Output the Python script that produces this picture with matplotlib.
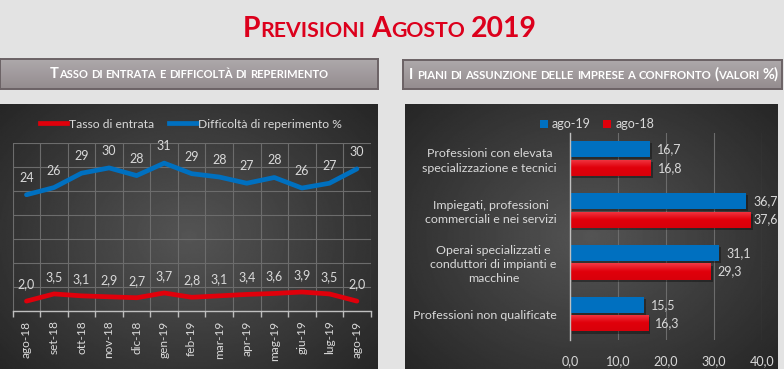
import matplotlib
matplotlib.use('Agg')
import matplotlib.pyplot as plt
import numpy as np
from matplotlib.offsetbox import TextArea, HPacker, AnchoredOffsetbox, DrawingArea
from matplotlib.patches import Patch
from matplotlib.lines import Line2D
from matplotlib.colors import LinearSegmentedColormap
import matplotlib.patheffects as pe

plt.rcParams['font.family'] = ['Lato', 'DejaVu Sans']

# ---------------- data ----------------
months = ['ago-18', 'set-18', 'ott-18', 'nov-18', 'dic-18', 'gen-19', 'feb-19',
          'mar-19', 'apr-19', 'mag-19', 'giu-19', 'lug-19', 'ago-19']
tasso_entrata = [2.0, 3.5, 3.1, 2.9, 2.7, 3.7, 2.8, 3.1, 3.4, 3.6, 3.9, 3.5, 2.0]
difficolta = [24.2, 25.7, 28.7, 29.8, 28.2, 30.8, 28.6, 27.9, 26.6, 27.8, 25.6, 26.6, 29.6]

categories = ['Professioni con elevata\nspecializzazione e tecnici',
              'Impiegati, professioni\ncommerciali e nei servizi',
              'Operai specializzati e\nconduttori di impianti e\nmacchine',
              'Professioni non qualificate']
ago19 = [16.7, 36.7, 31.1, 15.5]
ago18 = [16.8, 37.6, 29.3, 16.3]
bar_ticks = [0, 10, 20, 30, 40]

title = 'Previsioni Agosto 2019'
header_left = 'Tasso di entrata e difficoltà di reperimento'
header_right = 'I piani di assunzione delle imprese a confronto (valori %)'

# ---------------- styling ----------------
W, H = 784, 369
BG = '#e3e3e3'
BLUE = '#0070c0'
RED = '#e0000b'
TXT = '#d9d9d9'
GRID = '#6c6c6c'
AXC = '#bfbfbf'

fig = plt.figure(figsize=(W / 100, H / 100), dpi=100, facecolor=BG)


def ax_px(x0, y0, x1, y1, **kw):
    return fig.add_axes([x0 / W, 1 - y1 / H, (x1 - x0) / W, (y1 - y0) / H], **kw)


def panel(x0, y0, x1, y1):
    ax = ax_px(x0, y0, x1, y1)
    yy, xx = np.mgrid[-1:1:200j, -1:1:300j]
    r = np.sqrt(xx ** 2 + (yy * 0.9) ** 2) / np.sqrt(1.81)
    val = 0.33 - 0.18 * r
    ax.imshow(val, cmap='gray', vmin=0, vmax=1, extent=[0, 1, 0, 1],
              aspect='auto', interpolation='bilinear')
    ax.set_axis_off()
    ax.set_zorder(-5)
    return ax


def header(x0, y0, x1, y1):
    ax = ax_px(x0, y0, x1, y1)
    t = np.linspace(0, 1, 60)[:, None, None]
    top = np.array([0.68, 0.66, 0.67])
    bot = np.array([0.58, 0.55, 0.56])
    img = top * (1 - t) + bot * t
    img = np.repeat(img, 4, axis=1)
    ax.imshow(img, extent=[0, 1, 0, 1], aspect='auto', interpolation='bilinear')
    ax.set_xticks([])
    ax.set_yticks([])
    for s in ax.spines.values():
        s.set_color('#6b6265')
        s.set_linewidth(1.4)
    return ax


def smallcaps(s, x, y, big, small, color, weight='bold', space=None):
    words = s.split(' ')
    children = []
    for wi, word in enumerate(words):
        if wi > 0:
            sp = space if space is not None else small * 0.28
            children.append(DrawingArea(sp, 1))
        runs = []
        for ch in word:
            is_small = ch.islower()
            c = ch.upper() if is_small else ch
            if runs and runs[-1][1] == is_small:
                runs[-1][0] += c
            else:
                runs.append([c, is_small])
        for txt, sm in runs:
            props = dict(color=color, fontsize=small if sm else big, fontweight=weight)
            children.append(TextArea(txt, textprops=props))
    pack = HPacker(children=children, align='baseline', pad=0, sep=0)
    anch = AnchoredOffsetbox(loc='center', child=pack, pad=0, borderpad=0, frameon=False,
                             bbox_to_anchor=(x / W, 1 - y / H), bbox_transform=fig.transFigure)
    fig.add_artist(anch)


# ---------------- title & headers ----------------
smallcaps(title, 390, 29, 20.4, 15.3, '#dc001c', weight='bold')

header(0, 59, 378, 89)
header(403, 60, 782, 89)
smallcaps(header_left, 189, 74.5, 10.5, 8.0, 'white', weight='bold')
smallcaps(header_right, 594, 74.5, 10.5, 8.2, 'white', weight='bold')

# ---------------- panels ----------------
panel(0, 104, 378, 369)
panel(405, 104, 778, 369)

# ---------------- left chart ----------------
ax1 = ax_px(12.7, 143, 370.7, 310.7)
ax1.set_facecolor('none')
xs = np.arange(len(months))
ax1.set_xlim(-0.5, len(months) - 0.5)
ax1.set_ylim(0, 35)
ax1.set_yticks(np.arange(0, 36, 5))
ax1.set_xticks(xs)
ax1.set_xticks(np.arange(-0.5, len(months), 1), minor=True)
ax1.grid(axis='y', which='major', color=GRID, lw=0.8)
ax1.grid(axis='x', which='minor', color=GRID, lw=0.8)
ax1.set_axisbelow(True)
for side in ['top', 'right', 'left']:
    ax1.spines[side].set_visible(False)
ax1.spines['bottom'].set_color(AXC)
ax1.spines['bottom'].set_linewidth(1.0)
ax1.tick_params(axis='y', left=False, labelleft=False)
ax1.tick_params(axis='x', which='major', length=0, pad=7, labelcolor=TXT, labelsize=8.6)
ax1.tick_params(axis='x', which='minor', length=4, color=AXC, width=1.0)
ax1.set_xticklabels(months, rotation=90, va='top')

ax1.plot(xs, difficolta, color=BLUE, lw=3.4, solid_capstyle='round', solid_joinstyle='round', zorder=3)
ax1.plot(xs, tasso_entrata, color=RED, lw=3.4, solid_capstyle='round', solid_joinstyle='round', zorder=3)
for xi, v in zip(xs, difficolta):
    ax1.annotate(f'{v:.0f}', xy=(xi, v), xytext=(0, 17), textcoords='offset pixels',
                 ha='center', va='center', color=TXT, fontsize=9)
for xi, v in zip(xs, tasso_entrata):
    ax1.annotate(f'{v:.1f}'.replace('.', ','), xy=(xi, v), xytext=(0, 17), textcoords='offset pixels',
                 ha='center', va='center', color=TXT, fontsize=9)

leg_handles = [Line2D([0], [0], color=RED, lw=3.4), Line2D([0], [0], color=BLUE, lw=3.4)]
fig.legend(leg_handles, ['Tasso di entrata', 'Difficoltà di reperimento %'], loc='center',
           bbox_to_anchor=(191 / W, 1 - 124 / H), ncol=2, frameon=False, fontsize=8.7,
           labelcolor=TXT, handlelength=2.3, handletextpad=0.1, columnspacing=1.3)

# ---------------- right chart ----------------
ax2 = ax_px(570, 132.5, 762, 340)
ax2.set_facecolor('none')
ys = np.arange(len(categories))
ax2.set_xlim(0, 40)
ax2.set_ylim(len(categories) - 0.5, -0.5)
bh = 0.31
off = 0.18
shadow_bar = [pe.SimplePatchShadow(offset=(1.5, -1.5), shadow_rgbFace='black', alpha=0.35), pe.Normal()]
b1 = ax2.barh(ys - off, ago19, height=bh, color=BLUE, zorder=3)
b2 = ax2.barh(ys + off, ago18, height=bh, color=RED, zorder=3)
for b in list(b1) + list(b2):
    b.set_path_effects(shadow_bar)
# subtle vertical gradient on the red bars (lighter top edge)
red_cmap = LinearSegmentedColormap.from_list('rg', ['#f23a45', '#e0000b', '#d8000a'])
grad = np.linspace(0, 1, 50)[:, None]
for b in b2:
    x0, y0 = b.get_x(), b.get_y()
    w, h = b.get_width(), b.get_height()
    im = ax2.imshow(grad, cmap=red_cmap, extent=[x0, x0 + w, y0 + h, y0], aspect='auto',
                    interpolation='bilinear', zorder=3.5, origin='upper')
    im.set_clip_path(b)
ax2.set_xlim(0, 40)
ax2.set_ylim(len(categories) - 0.5, -0.5)

right_edge_px = 777.5
value_labels = []
for yi, v in zip(ys, ago19):
    value_labels.append((ax2.annotate(f'{v:.1f}'.replace('.', ','), xy=(v, yi - off), xytext=(7, 0),
                                      textcoords='offset pixels', ha='left', va='center',
                                      color=TXT, fontsize=9, zorder=5), v, yi - off))
for yi, v in zip(ys, ago18):
    value_labels.append((ax2.annotate(f'{v:.1f}'.replace('.', ','), xy=(v, yi + off), xytext=(7, 0),
                                      textcoords='offset pixels', ha='left', va='center',
                                      color=TXT, fontsize=9, zorder=5), v, yi + off))
ax2.set_xticks(bar_ticks)
ax2.set_xticklabels([f'{t:.1f}'.replace('.', ',') for t in bar_ticks])
ax2.grid(axis='x', color=GRID, lw=0.8)
ax2.set_axisbelow(True)
for side in ['top', 'right', 'bottom']:
    ax2.spines[side].set_visible(False)
ax2.spines['left'].set_color(AXC)
ax2.spines['left'].set_linewidth(1.0)
ax2.spines['left'].set_zorder(4)
ax2.tick_params(axis='x', length=0, pad=11, labelcolor=TXT, labelsize=9)
ax2.set_yticks(ys)
ax2.set_yticklabels(categories, multialignment='center', linespacing=1.35)
ax2.tick_params(axis='y', length=0, pad=9.5, labelcolor=TXT, labelsize=8.9)

leg2 = [Patch(facecolor=BLUE), Patch(facecolor=RED)]
fig.legend(leg2, ['ago-19', 'ago-18'], loc='center', bbox_to_anchor=(597 / W, 1 - 124 / H),
           ncol=2, frameon=False, fontsize=9, labelcolor=TXT, handlelength=0.6,
           handleheight=0.6, handletextpad=0.35, columnspacing=1.0)

# keep value labels inside the chart area (as the spreadsheet does)
fig.canvas.draw()
renderer = fig.canvas.get_renderer()
for ann, v, yy in value_labels:
    bb = ann.get_window_extent(renderer)
    if bb.x1 > right_edge_px:
        bar_end_px = ax2.transData.transform((v, yy))[0]
        ann.set_position((right_edge_px - bar_end_px - bb.width, 0))

fig.savefig('out.png', dpi=100, facecolor=BG)
